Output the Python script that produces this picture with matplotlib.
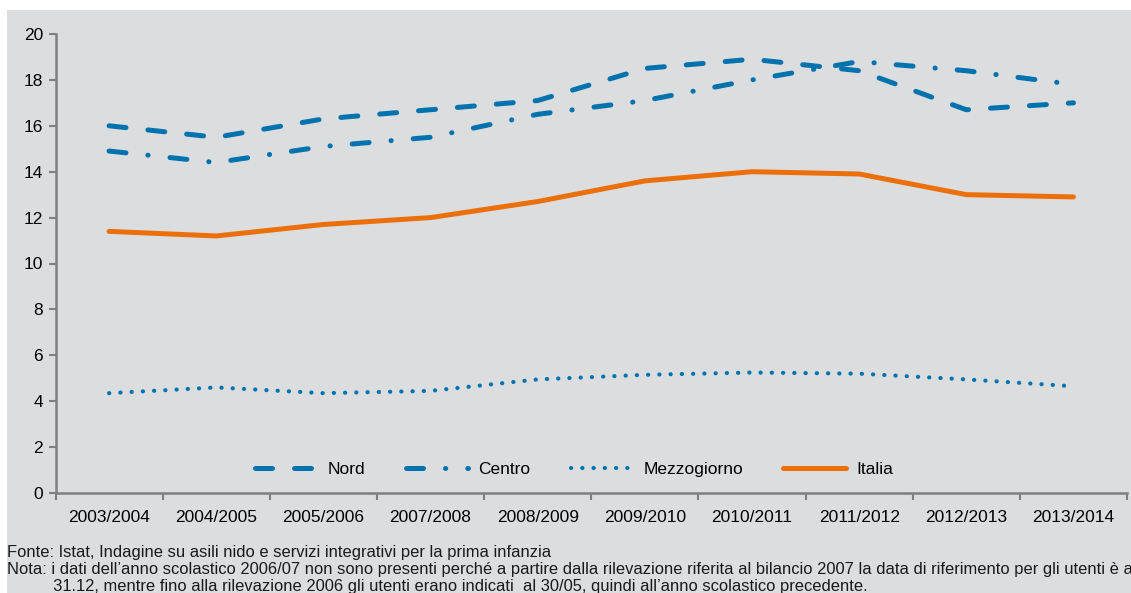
import matplotlib
matplotlib.use('Agg')
import matplotlib.pyplot as plt
from matplotlib.patches import Rectangle

# Anni scolastici (il 2006/07 manca nella rilevazione)
anni = ['2003/2004', '2004/2005', '2005/2006', '2007/2008', '2008/2009',
        '2009/2010', '2010/2011', '2011/2012', '2012/2013', '2013/2014']

# Percentuale di bambini 0-2 anni che usufruiscono dei servizi
nord = [16.0, 15.5, 16.3, 16.7, 17.1, 18.5, 18.9, 18.4, 16.7, 17.0]
centro = [14.9, 14.4, 15.1, 15.5, 16.5, 17.1, 18.0, 18.8, 18.4, 17.8]
mezzogiorno = [4.35, 4.6, 4.35, 4.45, 4.95, 5.15, 5.25, 5.2, 4.95, 4.65]
italia = [11.4, 11.2, 11.7, 12.0, 12.7, 13.6, 14.0, 13.9, 13.0, 12.9]

BLU = '#0073AE'
ARANCIO = '#EC700A'
GRIGIO = '#DCDDDF'

plt.rcParams['font.family'] = ['Liberation Sans', 'DejaVu Sans']

fig = plt.figure(figsize=(11.31, 5.93), dpi=100)
fig.patch.set_facecolor('white')
# riquadro grigio di sfondo
fig.patches.append(Rectangle((7 / 1131, 0), 1, 1 - 10 / 593, transform=fig.transFigure,
                             facecolor=GRIGIO, edgecolor='none', zorder=-10))

ax = fig.add_axes([55.5 / 1131, 1 - 493 / 593, (1127 - 55.5) / 1131, (493 - 34) / 593])
ax.set_zorder(1)
ax.set_facecolor('none')

x = list(range(len(anni)))
ax.plot(x, nord, color=BLU, lw=3.6, dashes=(3.4, 4.4), dash_capstyle='round', label='Nord')
ax.plot(x, centro, color=BLU, lw=3.6, dashes=(3.4, 4.4, 0.05, 4.4), dash_capstyle='round',
        label='Centro')
ax.plot(x, mezzogiorno, color=BLU, lw=3.0, dashes=(0.05, 2.65), dash_capstyle='round',
        label='Mezzogiorno')
ax.plot(x, italia, color=ARANCIO, lw=3.6, solid_capstyle='round', label='Italia')

ax.set_xlim(-0.5, len(anni) - 0.5)
ax.set_ylim(0, 20)
ax.set_yticks(range(0, 21, 2))
ax.set_xticks(x)
ax.set_xticklabels(anni)
ax.set_xticks([i - 0.5 for i in range(len(anni) + 1)], minor=True)
ax.tick_params(axis='x', which='major', length=0, pad=12, labelsize=12.5)
ax.tick_params(axis='x', which='minor', length=5, width=1.5, color='#7F7F7F', direction='out')
ax.tick_params(axis='y', length=5, width=1.5, color='#7F7F7F', labelsize=12.5, pad=4)

for s in ['top', 'right']:
    ax.spines[s].set_visible(False)
for s in ['left', 'bottom']:
    ax.spines[s].set_color('#7F7F7F')
    ax.spines[s].set_linewidth(1.8)

ax.legend(loc='center', bbox_to_anchor=(0.484, 0.052), ncol=4, frameon=False,
          fontsize=12.5, handlelength=3.6, handletextpad=0.6, columnspacing=2.3)

note = ('Fonte: Istat, Indagine su asili nido e servizi integrativi per la prima infanzia\n'
        'Nota: i dati dell\u2019anno scolastico 2006/07 non sono presenti perché a partire dalla '
        'rilevazione riferita al bilancio 2007 la data di riferimento per gli utenti è al\n'
        '          31.12, mentre fino alla rilevazione 2006 gli utenti erano indicati  al 30/05, '
        'quindi all\u2019anno scolastico precedente.')
fig.text(7 / 1131, 1 - 545 / 593, note, ha='left', va='top', fontsize=11.9,
         linespacing=1.17, color='#1a1a1a')

fig.savefig('out.png', dpi=100, facecolor='white')
